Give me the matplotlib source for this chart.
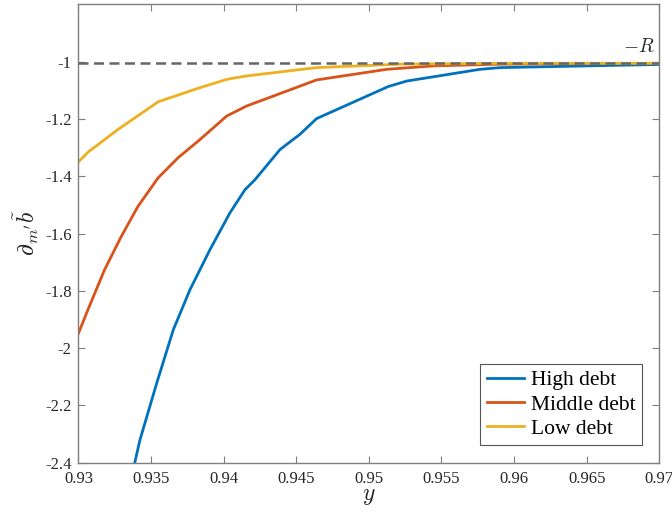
import matplotlib
matplotlib.use("Agg")
import matplotlib.pyplot as plt
import numpy as np

plt.rcParams['font.family'] = ['Liberation Serif', 'DejaVu Serif']
plt.rcParams['mathtext.fontset'] = 'cm'

# values
R = 1.006

y_high = [0.93389, 0.93423, 0.93539, 0.93653, 0.93768, 0.93906, 0.94043, 0.94147,
          0.94216, 0.94388, 0.94525, 0.94640, 0.95134, 0.95260, 0.95765, 0.95903, 0.97]
b_high = [-2.397, -2.321, -2.122, -1.936, -1.796, -1.656, -1.528, -1.447,
          -1.412, -1.307, -1.254, -1.199, -1.087, -1.068, -1.027, -1.021, -1.010]

y_mid = [0.93, 0.93065, 0.93180, 0.93295, 0.93410, 0.93548, 0.93685, 0.93837,
         0.94021, 0.94158, 0.94640, 0.95123, 0.95441, 0.95903, 0.97]
b_mid = [-1.948, -1.866, -1.726, -1.610, -1.505, -1.406, -1.336, -1.272,
         -1.190, -1.155, -1.064, -1.027, -1.015, -1.009, -1.006]

y_low = [0.93, 0.93068, 0.93272, 0.93550, 0.93837, 0.94021, 0.94158, 0.94640,
         0.95214, 0.95900, 0.97]
b_low = [-1.350, -1.315, -1.237, -1.140, -1.091, -1.062, -1.050, -1.021,
         -1.009, -1.006, -1.006]

xticks = [0.93, 0.935, 0.94, 0.945, 0.95, 0.955, 0.96, 0.965, 0.97]
xticklabels = ['0.93', '0.935', '0.94', '0.945', '0.95', '0.955', '0.96', '0.965', '0.97']
yticks = [-2.4, -2.2, -2, -1.8, -1.6, -1.4, -1.2, -1]
yticklabels = ['-2.4', '-2.2', '-2', '-1.8', '-1.6', '-1.4', '-1.2', '-1']

fig = plt.figure(figsize=(6.72, 5.17), dpi=100)
ax = fig.add_axes([0.1168, 0.105, 0.981 - 0.1168, 0.9917 - 0.105])

ax.plot(y_high, b_high, color='#0072BD', lw=2, label='High debt')
ax.plot(y_mid, b_mid, color='#D95319', lw=2, label='Middle debt')
ax.plot(y_low, b_low, color='#EDB120', lw=2, label='Low debt')
ax.axhline(-R, color='#666666', lw=1.8, ls=(0, (4, 2.2)), zorder=5)
ax.text(0.9697, -R + 0.025, r'$-R$', fontsize=14, ha='right', va='bottom', color='#262626')

ax.set_xlim(0.93, 0.97)
ax.set_ylim(-2.4, -0.8)
ax.set_xticks(xticks)
ax.set_xticklabels(xticklabels)
ax.set_yticks(yticks)
ax.set_yticklabels(yticklabels)
ax.tick_params(direction='in', top=True, right=True, labelsize=12,
               colors='#7f7f7f', labelcolor='#262626', length=5, width=0.8)
ax.tick_params(axis='x', pad=6)
ax.tick_params(axis='y', pad=5)
for s in ax.spines.values():
    s.set_color('#7f7f7f')
    s.set_linewidth(1)

ax.set_xlabel(r'$y$', fontsize=17, color='#262626', labelpad=-1)
ax.set_ylabel(r'$\partial_{m^{\prime}}\tilde{b}$', fontsize=17, color='#262626', labelpad=3)

leg = ax.legend(loc='lower right', fontsize=15.5, fancybox=False, framealpha=1,
                edgecolor='#555555', borderpad=0.3, handlelength=1.75,
                handletextpad=0.3, labelspacing=0.2, borderaxespad=0.8)
leg.get_frame().set_linewidth(0.8)

fig.savefig('out.png', dpi=100)
